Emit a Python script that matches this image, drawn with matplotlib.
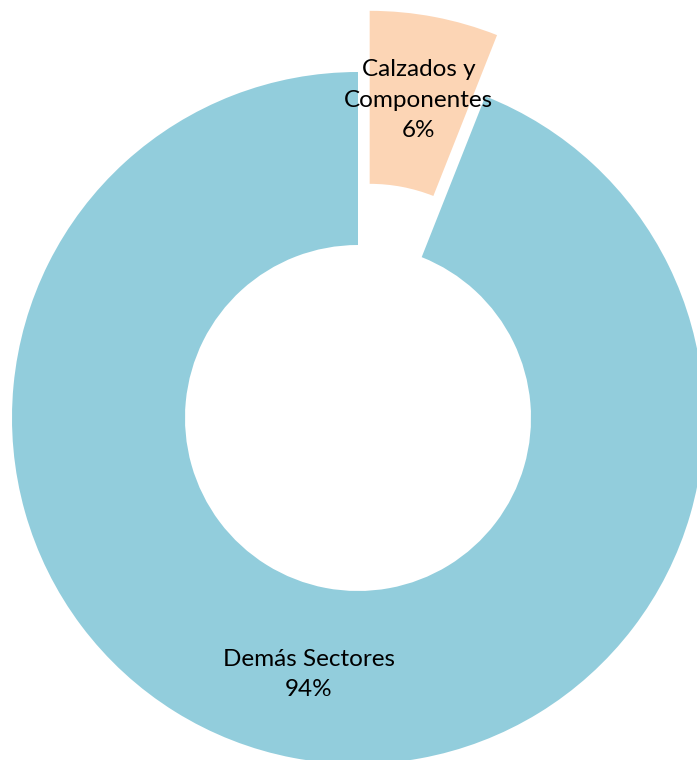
import matplotlib.pyplot as plt

# Data
sectors = ["Calzados y\nComponentes", "Demás Sectores"]
shares = [6, 94]
colors = ["#FCD5B5", "#92CDDC"]
explode = [0.18, 0]

plt.rcParams['font.family'] = ['Lato', 'DejaVu Sans']

fig = plt.figure(figsize=(6.97, 7.6), dpi=100)
ax = fig.add_axes([0, 0, 1, 1])

labels = [f"{s}\n{v}%" for s, v in zip(sectors, shares)]
wedges, texts = ax.pie(shares, labels=labels, colors=colors, explode=explode,
                       startangle=90, counterclock=False, radius=1.0,
                       labeldistance=0.755,
                       wedgeprops=dict(width=0.5, linewidth=0),
                       textprops=dict(fontsize=17.5, color="black"))
for t in texts:
    t.set_horizontalalignment("center")
    t.set_verticalalignment("center")
    t.set_linespacing(1.55)

# place donut center at (358, 418) px with radius 346 px
ax.set_xlim(-358 / 346, (697 - 358) / 346)
ax.set_ylim(-(760 - 418) / 346, 418 / 346)
ax.set_aspect("equal")
ax.axis("off")

fig.savefig("out.png", dpi=100)
